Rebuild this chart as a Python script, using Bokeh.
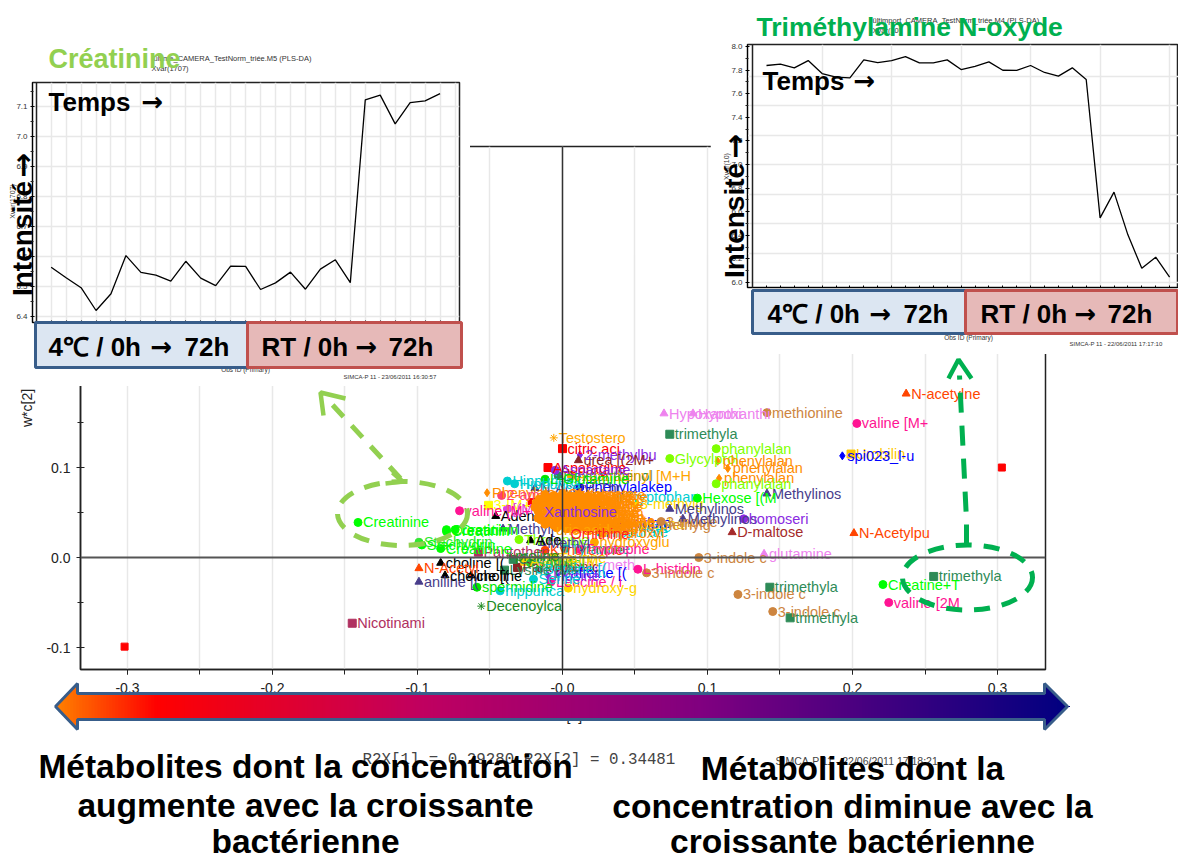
import math
from bokeh.plotting import figure, ColumnDataSource
from bokeh.models import FixedTicker, Span
from bokeh.core.properties import value
from bokeh.embed import file_html
from bokeh.resources import INLINE

FONT = "Liberation Sans"

# ---------- main loading plot: outlying and labelled points ----------
pt_names = ["Creatinine","Creatinin","Creatinin","Stachydrin","Stachydrin","Creatinine","choline [(","N-Acetyl","aniline [(","choline [(","choline",
"spermidine","hippurica","Decenoylca","Nicotinami","Testostero","citric aci","2-methylbu","urea [(2M+","Asparagine","Aspartame","Hippurica","Hippurica","L-Glutamine",
"Phenylala","2-aminob","valine [M+","L-histidin","3-indole c","3-indole c","3-indole c","3-indole c","3-indole","N-acetylne","methionine","Hypoxanthi","Hypoxanthi",
"valine [M+","trimethyla","phanylalan","Glycylprol","phenylalan","phenylalan","phenylalan","phanylalan","Urobilin","spi023_l-u","Methylinos","Hexose [(M","Methylinos","Methylinos",
"homoseri","D-maltose","N-Acetylpu","glutamine","trimethyla","trimethyla","trimethyla","Creatine+T","valine [2M"]
pt_x = [-.141,-.080,-.080,-.099,-.097,-.084,-.084,-.099,-.099,-.081,-.063,-.059,-.043,-.056,-.145,-.006,0.0,.012,.011,-.010,-.005,-.038,-.033,-.012,
-.052,-.042,-.071,.052,.058,.094,.121,.145,.068,.237,.141,.070,.090,.203,.074,.106,.074,.107,.114,.108,.106,.199,.193,.141,.093,.074,.083,.125,.117,.201,.139,.143,.157,.256,.221,.225]
pt_y = [.039,.031,.029,.017,.014,.010,-.006,-.012,-.027,-.020,-.020,-.033,-.037,-.054,-.073,.133,.121,.114,.108,.100,.097,.085,.082,.087,
.072,.069,.052,-.013,-.017,0.0,-.041,-.060,.040,.182,.161,.160,.160,.149,.137,.121,.110,.107,.099,.088,.082,.115,.113,.071,.066,.054,.043,.043,.028,.027,.004,-.033,-.067,-.021,-.030,-.050]
pt_col = ["#00FF00","#00FF00","#00FF00","#32E632","#00FF00","#00FF00","#000000","#FF4500","#483D8B","#000000","#000000","#00E600","#00CED1","#228B22","#B03060","#FFA500","#FF0000","#8A2BE2","#8B2525","#FF0000","#8A2BE2","#00CED1","#00CED1","#00E600",
"#FF8C00","#FF4070","#FF1493","#FF1493","#CD853F","#CD853F","#CD853F","#CD853F","#CD853F","#FF4500","#CD853F","#EE82EE","#EE82EE","#FF1493","#2E8B57","#7FFF00","#7FFF00","#FF8C00","#FF8C00","#FF8C00","#7FFF00","#FFC800","#0000FF","#483D8B","#00FF00","#483D8B","#483D8B","#8A2BE2","#A52A2A","#FF4500","#EE82EE","#2E8B57","#2E8B57","#2E8B57","#00FF00","#FF1493"]
pt_mark = ["circle","circle","circle","circle","circle","circle","triangle","triangle","triangle","triangle","triangle","circle","circle","asterisk","square","asterisk","square","diamond","triangle","square","circle","circle","circle","circle",
"diamond","circle","circle","circle","circle","circle","circle","circle","circle","triangle","circle","triangle","triangle","circle","square","circle","circle","diamond","diamond","diamond","circle","square","diamond","triangle","circle","triangle","triangle","circle","triangle","triangle","triangle","square","square","square","circle","circle"]

# two unlabelled extreme points
lone_x = [-.302, .303]
lone_y = [-.099, .100]
lone_col = "#FF0000"

# ---------- labels crowded round the centre, under the orange mass ----------
mid_names = ["Dexpanthenol","Asparaginyl [M+H","Phenylalakep","N-Acetyl-Thr","Tryptophan","Citrulline","3-[M+H","Adenine","[(M+H","Methyl[","Creatinin","Hippurate","Hippurate","Glycylpro","Tryptophan","Hydroxyl","3-methylg","3-methylg",
"Pantothen","Kynurenine","Tyramine","Tryptophe","hydroxyglu","Cystathi-meth","Pantothenic","caffeine [(","Leucine / i","hydroxy-g","Threonine","Ade","Methyl","Carnitine","Alanine [M","Sorbitol","Betaine [(","Inosine","Lysine [M+","Serine","Taurine","proline"]
mid_x = [-.003,.006,.012,-.019,.040,-.021,-.051,-.046,-.038,-.041,-.074,.028,.026,.030,.036,.028,.050,.055,
-.058,-.012,.002,.012,.022,-.015,-.031,-.003,-.008,.004,-.030,-.022,-.014,-.034,-.026,-.022,-.016,-.010,-.040,-.020,-.006,-.036]
mid_y = [.091,.091,.078,.077,.067,.061,.058,.046,.054,.032,.031,.034,.028,.038,.037,.027,.060,.036,
.006,.008,.010,.009,.017,-.008,-.011,-.017,-.027,-.034,.020,.019,.016,-.002,-.004,-.006,-.013,-.020,-.014,-.024,.000,.002]
mid_col = ["#2E8B57","#FFA500","#0000FF","#483D8B","#00CED1","#FF0000","#FFFF00","#000000","#E040E0","#483D8B","#00FF00","#00CED1","#00CED1","#0000FF","#FFD700","#FF8C00","#FFD700","#CD853F",
"#B03060","#FF4500","#20B2AA","#FF1493","#FFA500","#EE82EE","#8B2525","#0000FF","#FF1493","#FFD700","#7FFF00","#000000","#483D8B","#2E8B57","#FFD700","#32CD32","#00CED1","#8A2BE2","#2E8B57","#00CED1","#FFD700","#228B22"]
mid_mark = ["circle","circle","circle","triangle","circle","square","square","triangle","circle","triangle","circle","circle","circle","diamond","circle","circle","circle","circle",
"square","circle","circle","circle","circle","triangle","square","diamond","circle","circle","circle","triangle","triangle","square","square","circle","circle","diamond","square","circle","square","asterisk"]

# ---------- the orange mass ----------
blob_names = ["uric acid","Unknown","Glutamate","Tyrosine","Aspartate","Histidine","Xanthine","Arginine","Guanine","Uridine","Maltose","Glycine",
"Cytidine","Proline","Valine [M","Methionin","Tryptoph","Ornithine","Leucine","Fructose","Thymine","Lactate","Citrate","Pyruvate",
"Glucose","Malate","Succinate","Adenosine","Fumarate","Isoleucin","Acetate","Spermine","Sucrose","Ribose","Mannitol","Cysteine",
"Galactose","Inositol","Tartrate","Butyrate","Glycerol","Carnosine","Dopamine","Agmatine","Histamine","Tyramine","Ectoine","Sarcosine","Urocanate","Phenol [M",
"Alanine","Asparagin","Serotonin","Glutamine","Melatonin","Nicotinate","Biotin","Riboflavin","Thiamine","Pyridoxal","Folate","Quinolin","Anthranil","Indole","Kynuren","Lysine"]
blob_x = [-.012,-.006,.000,.006,.011,.017,-.016,-.010,-.004,.002,.008,.014,
-.018,-.012,-.006,.000,.006,.012,-.019,-.013,-.007,-.001,.006,.012,
-.017,-.011,-.005,.001,.007,.013,-.016,-.010,-.004,.002,.008,.014,
-.015,-.009,-.003,.003,.009,.015,-.012,-.006,.000,.006,.012,-.004,.003,.010,
-.014,-.008,-.002,.004,.010,.016,-.017,-.009,-.001,.007,.015,-.013,-.005,.003,.011,.017]
blob_y = [.070,.069,.071,.068,.070,.067,.065,.066,.064,.066,.063,.065,
.061,.060,.062,.059,.061,.058,.056,.057,.055,.057,.054,.056,
.052,.051,.053,.050,.052,.049,.047,.046,.048,.045,.047,.044,
.042,.041,.043,.040,.042,.039,.037,.036,.038,.035,.037,.033,.032,.033,
.063,.059,.054,.050,.045,.041,.044,.039,.036,.034,.034,.058,.049,.043,.039,.060]
blob_col = "#FF8C00"

# ---------- drawn last, on top of the mass ----------
top_names = ["Xanthosine","uric acid","Ornithine"]
top_x = [-.016,-.008,.002]
top_y = [.051,.031,.026]
top_col = ["#8A2BE2","#FFA500","#FF2020"]

# ---------- inset curves ----------
crea_obs = list(range(1, 28))
crea_val = [6.564,6.529,6.496,6.42,6.476,6.603,6.547,6.538,6.518,6.584,6.528,6.503,6.568,6.567,6.49,6.512,6.548,6.491,6.558,6.589,6.513,7.122,7.138,7.042,7.113,7.119,7.143]
tmao_obs = list(range(1, 31))
tmao_val = [7.839,7.850,7.819,7.881,7.771,7.740,7.734,7.887,7.864,7.881,7.915,7.862,7.862,7.887,7.805,7.831,7.870,7.799,7.797,7.839,7.780,7.749,7.819,7.720,6.548,6.766,6.404,6.121,6.215,6.045]

x_major = [-0.3,-0.2,-0.1,0.0,0.1,0.2,0.3]
x_all = [-0.3,-0.25,-0.2,-0.15,-0.1,-0.05,0.0,0.05,0.1,0.15,0.2,0.25,0.3]
y_major = [-0.1,0.0,0.1]
y_minor = [-0.05,0.05,0.15]


def place(fig, left, top):
    fig.styles = {"position": "absolute", "left": f"{left}px", "top": f"{top}px"}
    return fig


# ---------- main figure ----------
main = figure(width=1178, height=861, x_range=(-0.3324, 0.3331), y_range=(-0.1244, 0.4567),
              output_backend="svg", toolbar_location=None,
              min_border_left=80, min_border_right=133, min_border_top=146, min_border_bottom=192)
main.background_fill_color = "white"
main.outline_line_color = "#222222"
main.outline_line_width = 1.5
main.ygrid.visible = False
main.xgrid.ticker = FixedTicker(ticks=x_all)
main.xgrid.grid_line_color = "#E8E8E8"
main.xgrid.grid_line_width = 1.5
main.xaxis.ticker = FixedTicker(ticks=x_major, minor_ticks=x_all)
main.yaxis.ticker = FixedTicker(ticks=y_major, minor_ticks=y_minor)
main.xaxis.major_label_overrides = {-0.3: "-0.3", -0.2: "-0.2", -0.1: "-0.1", 0.0: "-0.0"}
main.yaxis.major_label_overrides = {-0.1: "-0.1", 0.0: "0.0", 0.1: "0.1"}
main.xaxis.axis_label = "w*c[1]"
main.yaxis.axis_label = "w*c[2]"
for ax in (main.xaxis[0], main.yaxis[0]):
    ax.axis_label_text_font = FONT
    ax.axis_label_text_font_style = "normal"
    ax.axis_label_text_font_size = "14px"
    ax.axis_label_text_color = "#222222"
    ax.major_label_text_font = FONT
    ax.major_label_text_font_size = "14px"
    ax.major_label_text_color = "#222222"
    ax.axis_line_color = "#222222"
    ax.axis_line_width = 1.5
    ax.major_tick_line_color = "#222222"
    ax.minor_tick_line_color = "#222222"
main.xaxis[0].major_tick_in = 0
main.xaxis[0].major_tick_out = 5
main.xaxis[0].minor_tick_in = 0
main.xaxis[0].minor_tick_out = 5
main.xaxis[0].major_label_standoff = 8
main.xaxis[0].axis_label_standoff = 12
main.yaxis[0].major_tick_in = 4
main.yaxis[0].major_tick_out = 4
main.yaxis[0].minor_tick_in = 3
main.yaxis[0].minor_tick_out = 3
main.yaxis[0].major_label_standoff = 6
main.yaxis[0].axis_label_standoff = 8
main.add_layout(Span(location=0, dimension="height", line_color="#333333", line_width=1.5))
main.add_layout(Span(location=0, dimension="width", line_color="#555555", line_width=2))


def pts(names, xs, ys, cols, marks):
    src = ColumnDataSource(dict(n=names, x=xs, y=ys, c=cols, m=marks))
    main.scatter("x", "y", source=src, marker="m", size=8, fill_color="c", line_color="c")
    main.text("x", "y", text="n", source=src, text_color="c", text_font=value(FONT), text_font_size=value("14.5px"),
              text_baseline="middle", x_offset=5)


main.scatter(lone_x, lone_y, marker="square", size=7, fill_color=lone_col, line_color=lone_col)
pts(mid_names, mid_x, mid_y, mid_col, mid_mark)
pts(pt_names, pt_x, pt_y, pt_col, pt_mark)
pts(blob_names, blob_x, blob_y, [blob_col] * len(blob_names), ["circle"] * len(blob_names))
main.text(top_x, top_y, text=top_names, text_color=top_col, text_font=value(FONT), text_font_size=value("14.5px"),
          text_baseline="middle", x_offset=5)
place(main, 0, 0)


# ---------- insets ----------
def inset(left, top, w, h, borders, xr, yr, xs, ys, yticks, ylabels, yminor, ygrid, xgrid, xticks):
    f = figure(width=w, height=h, x_range=xr, y_range=yr, output_backend="svg", toolbar_location=None,
               min_border_left=borders[0], min_border_right=borders[1], min_border_top=borders[2],
               min_border_bottom=borders[3])
    f.outline_line_color = "#222222"
    f.outline_line_width = 1.5
    f.border_fill_color = "white"
    f.xgrid.ticker = FixedTicker(ticks=xgrid)
    f.ygrid.ticker = FixedTicker(ticks=ygrid)
    f.grid.grid_line_color = "#E8E8E8"
    f.grid.grid_line_width = 1.5
    f.xaxis.ticker = FixedTicker(ticks=xticks)
    f.xaxis.major_label_overrides = {t: " " for t in xticks}
    f.xaxis.major_label_standoff = 0
    f.xaxis.major_label_text_font_size = "1px"
    f.xaxis.major_tick_in = 2
    f.xaxis.major_tick_out = 0
    f.xaxis.minor_tick_line_color = None
    f.yaxis.ticker = FixedTicker(ticks=yticks, minor_ticks=yminor)
    f.yaxis.major_label_overrides = dict(zip(yticks, ylabels))
    f.yaxis.major_label_text_font = FONT
    f.yaxis.major_label_text_font_size = "8px"
    f.yaxis.major_label_text_color = "#333333"
    f.yaxis.major_label_standoff = 3
    f.yaxis.major_tick_in = 2
    f.yaxis.major_tick_out = 2
    f.yaxis.minor_tick_in = 1
    f.yaxis.minor_tick_out = 2
    f.yaxis.minor_tick_line_color = "#222222"
    f.line(xs, ys, line_color="black", line_width=1.3)
    return place(f, left, top)


crea_ticks = [6.4, 6.5, 6.6, 6.7, 6.8, 6.9, 7.0, 7.1]
crea_labels = ["6.4", "6.5", "6.6", "6.7", "6.8", "6.9", "7.0", "7.1"]
tmao_ticks = [6.0, 6.2, 6.4, 6.6, 6.8, 7.0, 7.2, 7.4, 7.6, 7.8, 8.0]
tmao_labels = ["6.0", "6.2", "6.4", "6.6", "6.8", "7.0", "7.2", "7.4", "7.6", "7.8", "8.0"]
ins1 = inset(0, 30, 470, 356, (32, 11, 52, 64), (-0.248, 28.3), (6.38, 7.18), crea_obs, crea_val,
             crea_ticks, crea_labels, [6.45, 6.55, 6.65, 6.75, 6.85, 6.95, 7.05, 7.15],
             crea_ticks, crea_obs + [28], crea_obs)
ins2 = inset(710, 0, 468, 354, (37, 0, 44, 67), (-0.367, 30.64), (5.958, 8.017), tmao_obs, tmao_val,
             tmao_ticks, tmao_labels, [6.1, 6.3, 6.5, 6.7, 6.9, 7.1, 7.3, 7.5, 7.7, 7.9],
             [6.0, 6.25, 6.5, 6.75, 7.0, 7.25, 7.5, 7.75], [5, 10, 15, 20, 25, 30], tmao_obs)

# ---------- annotation layer, in page pixels ----------
ov = figure(width=1178, height=861, x_range=(0, 1178), y_range=(861, 0), output_backend="svg",
            toolbar_location=None, x_axis_type=None, y_axis_type=None,
            min_border_left=0, min_border_right=0, min_border_top=0, min_border_bottom=0)
ov.grid.visible = False
ov.outline_line_color = None
ov.background_fill_alpha = 0
ov.border_fill_alpha = 0


def txt(x, y, s, size, color="black", bold=False, align="left", angle=0.0, font=FONT):
    ov.text([x], [y], text=[s], text_font=value(font), text_font_size=value(f"{size}px"), text_color=color,
            text_font_style="bold" if bold else "normal", text_align=align, text_baseline="middle", angle=angle)


ARROW = "DejaVu Sans"

# small source texts of the original plots
txt(153, 58, "ültime_CAMERA_TestNorm_triée.M5 (PLS-DA)", 7.5, "#333333")
txt(151, 68, "Xvar(1707)", 7.5, "#333333")
txt(12, 201, "Xvar(1707)", 7, "#333333", angle=math.pi / 2, align="center")
txt(245, 369, "Obs ID (Primary)", 6.5, "#333333", align="center")
txt(343, 376, "SIMCA-P 11 - 23/06/2011 16:30:57", 6, "#333333")
txt(872, 20, "ültimport_CAMERA_TestNorm_triée.M4 (PLS-DA)", 7.5, "#333333")
txt(872, 30, "Xvar(10)", 7.5, "#333333")
txt(726, 166, "Xvar(10)", 7, "#333333", angle=math.pi / 2, align="center")
txt(968, 337, "Obs ID (Primary)", 6.5, "#333333", align="center")
txt(1069, 343, "SIMCA-P 11 - 22/06/2011 17:17:10", 6, "#333333")
txt(362, 759, "R2X[1] = 0.29280  R2X[2] = 0.34481", 15.8, "#444444", font="Liberation Mono")
txt(775, 760, "SIMCA-P 11 - 22/06/2011 17:18:21", 10.5, "#444444")

# inner frame lines of the insets
ov.line([36, 36], [82, 322], line_color="#222222", line_width=1.5)
ov.line([752, 752], [44, 287], line_color="#222222", line_width=1.5)

# coloured time boxes
for l, r, t, b, f, c in [(35, 247, 322, 367, "#DCE6F2", "#385D8A"), (247, 461, 322, 367, "#E6B9B8", "#C0504D"),
                         (752, 965, 290, 333, "#DCE6F2", "#385D8A"), (965, 1177, 290, 333, "#E6B9B8", "#C0504D")]:
    ov.quad(left=[l], right=[r], top=[t], bottom=[b], fill_color=f, line_color=c, line_width=3)

for x0, y0 in [(48, 346), (767, 313)]:
    txt(x0, y0, "4℃ / 0h", 26, bold=True)
    txt(x0 + 102, y0, "→", 26, bold=True, font=ARROW)
    txt(x0 + 136, y0, "72h", 26, bold=True)
for x0, y0 in [(261, 346), (980, 313)]:
    txt(x0, y0, "RT / 0h", 26, bold=True)
    txt(x0 + 94, y0, "→", 26, bold=True, font=ARROW)
    txt(x0 + 127, y0, "72h", 26, bold=True)
txt(48, 58, "Créatinine", 27, "#92D050", True)
txt(756, 26, "Triméthylamine N-oxyde", 26.5, "#00B050", True)
txt(48, 101, "Temps", 26, bold=True)
txt(141, 101, "→", 26, bold=True, font=ARROW)
txt(762, 80, "Temps", 26, bold=True)
txt(853, 80, "→", 26, bold=True, font=ARROW)
txt(22, 238, "Intensité", 28, bold=True, align="center", angle=math.pi / 2)
txt(22, 165, "→", 30, bold=True, align="center", angle=math.pi / 2, font=ARROW)
txt(734, 220, "Intensité", 28, bold=True, align="center", angle=math.pi / 2)
txt(734, 146, "→", 30, bold=True, align="center", angle=math.pi / 2, font=ARROW)

# dashed ellipses and arrows
ov.ellipse([402], [513], width=[130], height=[64], fill_color=None, line_color="#92D050", line_width=5, line_dash="16 12")
ov.line([400, 327], [478, 399], line_color="#92D050", line_width=5, line_dash="16 12")
ov.line([345, 320, 323], [398, 392, 415], line_color="#92D050", line_width=4.5)
ov.line([392, 402, 385], [472, 481, 483], line_color="#92D050", line_width=4.5)
ov.ellipse([967], [577], width=[130], height=[65], fill_color=None, line_color="#00B050", line_width=5, line_dash="16 12")
ov.line([966, 966, 959], [544, 520, 375], line_color="#00B050", line_width=5, line_dash="20 13")
ov.line([948, 958, 971], [378, 359, 378], line_color="#00B050", line_width=4.5)

# gradient double arrow
stops = [(55, (255, 128, 0)), (155, (255, 0, 0)), (420, (192, 0, 96)), (700, (128, 0, 128)), (1067, (0, 0, 128))]


def grad(px):
    for (a, ca), (b, cb) in zip(stops, stops[1:]):
        if px <= b:
            t = (px - a) / (b - a)
            return "#%02x%02x%02x" % tuple(round(ca[i] + (cb[i] - ca[i]) * t) for i in range(3))
    return "#000080"


def half(px):
    if px < 77:
        return 23 * (px - 55) / 22
    if px > 1044:
        return 23 * (1067 - px) / 23
    return 13


sl = list(range(55, 1067, 3))
ov.quad(left=sl, right=[v + 3.5 for v in sl], top=[706 - half(v + 1.5) for v in sl], bottom=[706 + half(v + 1.5) for v in sl],
        fill_color=[grad(v) for v in sl], line_color=None)
ov.patch([55, 77, 77, 1044, 1044, 1067, 1044, 1044, 77, 77], [706, 683, 693, 693, 683, 706, 729, 719, 719, 729],
         fill_color=None, line_color="#385D8A", line_width=3)

# conclusion texts
for y, s in [(766, "Métabolites dont la concentration"), (805, "augmente avec la croissante"), (841, "bactérienne")]:
    txt(305, y, s, 33.5, bold=True, align="center")
for y, s in [(768, "Métabolites dont la"), (806, "concentration diminue avec la"), (841, "croissante bactérienne")]:
    txt(852, y, s, 33.5, bold=True, align="center")
place(ov, 0, 0)

open("out.html", "w").write(file_html([main, ins1, ins2, ov], INLINE))
